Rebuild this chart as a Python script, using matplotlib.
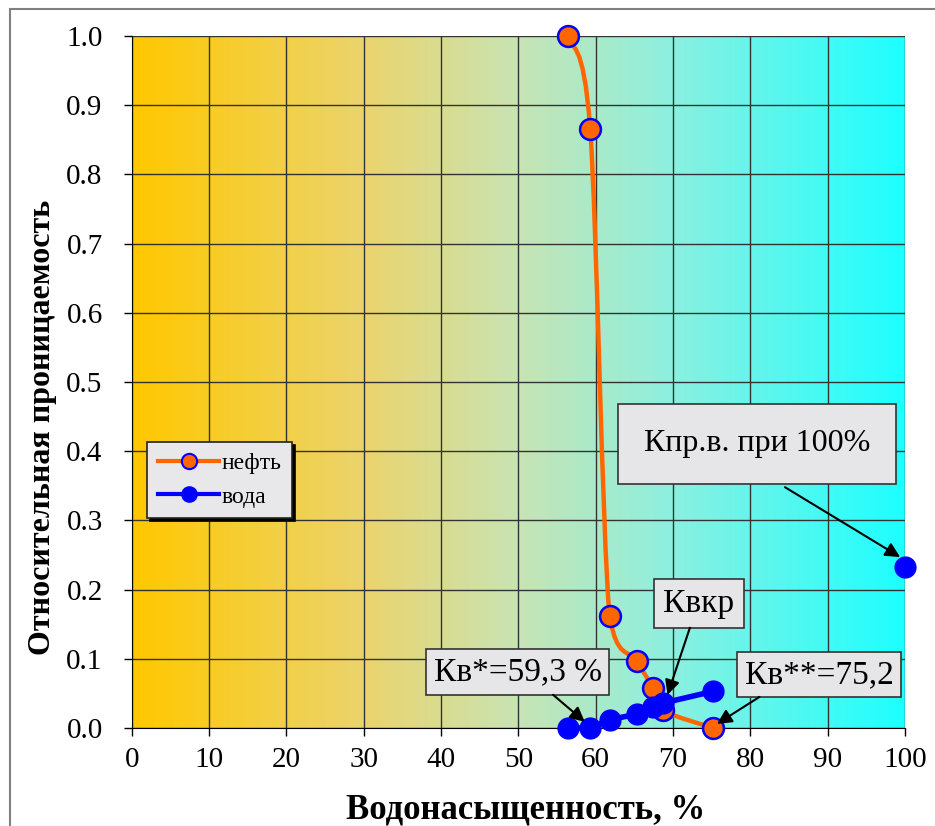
import matplotlib.pyplot as plt
import numpy as np
from matplotlib.colors import LinearSegmentedColormap
from matplotlib.path import Path
from matplotlib.patches import PathPatch, Rectangle
from matplotlib.lines import Line2D

plt.rcParams['font.family'] = ['Liberation Serif', 'DejaVu Serif']

# ---------------------------------------------------------
# Data: relative permeability vs water saturation
# ---------------------------------------------------------
oil_sw = [56.4, 59.3, 61.8, 65.3, 67.4, 68.7, 75.2]
oil_k = [1.0, 0.866, 0.162, 0.097, 0.058, 0.026, 0.0]

water_sw = [56.4, 59.3, 61.8, 65.3, 67.4, 68.7, 75.2]
water_k = [0.0, 0.0, 0.012, 0.020, 0.030, 0.036, 0.053]

# water permeability at full saturation (separate point)
water_full_sw = [100.0]
water_full_k = [0.233]

x_ticks = list(range(0, 101, 10))
y_ticks = [i / 10 for i in range(11)]

ORANGE = '#FF6600'
BLUE = '#0000FF'


def smooth_path(xs, ys, tension=6.0):
    """Cubic Bezier path through the points; control points are kept
    inside each segment's box so the curve does not overshoot."""
    pts = np.column_stack([xs, ys]).astype(float)
    n = len(pts)
    verts = [pts[0]]
    codes = [Path.MOVETO]
    for i in range(n - 1):
        p0 = pts[i - 1] if i > 0 else pts[i]
        p1 = pts[i]
        p2 = pts[i + 1]
        p3 = pts[i + 2] if i + 2 < n else pts[i + 1]
        lo = np.minimum(p1, p2)
        hi = np.maximum(p1, p2)
        c1 = np.clip(p1 + (p2 - p0) / tension, lo, hi)
        c2 = np.clip(p2 - (p3 - p1) / tension, lo, hi)
        verts += [c1, c2, p2]
        codes += [Path.CURVE4] * 3
    return Path(verts, codes)


fig = plt.figure(figsize=(9.35, 8.26), dpi=100)
ax = fig.add_axes([0.141, 0.1186, 0.8267, 0.8378])

# horizontal colour gradient behind the plot area
grad_cmap = LinearSegmentedColormap.from_list(
    'bg', [(0.0, '#FFC800'), (0.3, '#EBD46E'), (0.5, '#C8E4B4'),
           (0.7, '#8CF0E0'), (1.0, '#1EFFFF')])
ax.imshow(np.linspace(0, 1, 256).reshape(1, -1), cmap=grad_cmap, aspect='auto',
          extent=[0, 100, 0, 1], zorder=0, interpolation='bilinear')

ax.set_xlim(0, 100)
ax.set_ylim(0, 1)
ax.set_xticks(x_ticks)
ax.set_yticks(y_ticks)
ax.set_yticklabels([f'{v:.1f}' for v in y_ticks])
ax.grid(True, color='#333333', lw=1.0, zorder=1)
ax.tick_params(labelsize=21, direction='out', length=6, width=1)
ax.tick_params(axis='y', pad=15)
ax.tick_params(axis='x', pad=8)
for side in ['top', 'right']:
    ax.spines[side].set_visible(False)
for side in ['left', 'bottom']:
    ax.spines[side].set_color('black')

# oil curve (smoothed) and markers
ax.add_patch(PathPatch(smooth_path(oil_sw, oil_k), fill=False, edgecolor=ORANGE,
                       lw=3.2, zorder=3, clip_on=False))
ax.plot(oil_sw, oil_k, ls='none', marker='o', ms=15, mfc=ORANGE, mec=BLUE,
        mew=1.8, zorder=4, clip_on=False)

# water curve
ax.plot(water_sw, water_k, color=BLUE, lw=4, marker='o', ms=15, mfc=BLUE,
        mec=BLUE, zorder=5, clip_on=False)
ax.plot(water_full_sw, water_full_k, ls='none', marker='o', ms=15, mfc=BLUE,
        mec=BLUE, zorder=5, clip_on=False)

ax.set_xlabel('Водонасыщенность, %', fontsize=25, fontweight='bold')
ax.xaxis.set_label_coords(0.51, -0.095)
ax.set_ylabel('Относительная проницаемость', fontsize=23, fontweight='bold')
ax.yaxis.set_label_coords(-0.097, 0.434)

# legend with a solid black shadow
handles = [Line2D([], [], color=ORANGE, lw=3, marker='o', ms=11, mfc=ORANGE, mec=BLUE, mew=1.5),
           Line2D([], [], color=BLUE, lw=3, marker='o', ms=11, mfc=BLUE, mec=BLUE)]
leg = ax.legend(handles, ['нефть', 'вода'], loc='upper left',
                bbox_to_anchor=(0.02, 0.413), fontsize=17, frameon=True,
                fancybox=False, shadow={'color': 'black', 'alpha': 1},
                handlelength=2.6, handletextpad=0.1, borderpad=0.45,
                labelspacing=0.5, borderaxespad=0)
leg.get_frame().set_facecolor('#E8E8EA')
leg.get_frame().set_edgecolor('#222222')
leg.get_frame().set_linewidth(1.2)
leg.get_frame().set_alpha(1)
leg.set_zorder(10)

# callouts: text box and arrow
box = dict(boxstyle='square', facecolor='#E6E6E8', edgecolor='#333333', lw=1.2)
callouts = [
    ('Кпр.в. при 100%', (80.9, 0.411), 23, 0.8, (84.5, 0.348), (99.4, 0.247)),
    ('Квкр', (73.35, 0.180), 24, 0.28, (72.2, 0.145), (69.3, 0.048)),
    ('Кв*=59,3 %', (49.9, 0.081), 24, 0.22, (54.5, 0.048), (58.6, 0.009)),
    ('Кв**=75,2', (88.9, 0.077), 24, 0.22, (81.2, 0.045), (75.7, 0.006)),
]
for label, (tx, ty), size, pad, start, end in callouts:
    ax.text(tx, ty, label, fontsize=size, ha='center', va='center', zorder=8,
            bbox=dict(box, pad=pad))
    ax.annotate('', xy=end, xytext=start, zorder=9,
                arrowprops=dict(arrowstyle='-|>', color='black', lw=1.5,
                                mutation_scale=22, shrinkA=0, shrinkB=0))

# chart border
fig.patches.append(Rectangle((10 / 935, -0.05), 1.1, 1 - 9 / 826 + 0.05,
                             transform=fig.transFigure, fill=False,
                             edgecolor='#808080', lw=1.5))

fig.savefig('out.png', dpi=100)
